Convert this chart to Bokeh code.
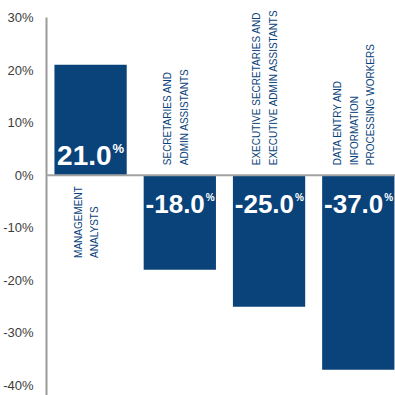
import math
from bokeh.plotting import figure
from bokeh.models import ColumnDataSource, Range1d, FixedTicker, Span, LabelSet
from bokeh.core.properties import value
from bokeh.embed import file_html
from bokeh.resources import INLINE

# ---- data ----
categories = [
    "MANAGEMENT\nANALYSTS",
    "SECRETARIES AND\nADMIN ASSISTANTS",
    "EXECUTIVE SECRETARIES AND\nEXECUTIVE ADMIN ASSISTANTS",
    "DATA ENTRY AND\nINFORMATION\nPROCESSING WORKERS",
]
changes = [21.0, -18.0, -25.0, -37.0]
y_ticks = [-40, -30, -20, -10, 0, 10, 20, 30]
y_tick_labels = ["-40%", "-30%", "-20%", "-10%", "0%", "10%", "20%", "30%"]

# ---- style ----
BLUE = "#0a437a"
FONT = "'Liberation Sans', Arial, sans-serif"

idx = list(range(len(categories)))

p = figure(width=395, height=395,
           x_range=Range1d(-0.494, 3.417), y_range=Range1d(-41.9, 33.23),
           output_backend="svg", toolbar_location=None,
           min_border_left=43, min_border_right=0,
           min_border_top=0, min_border_bottom=0)
p.outline_line_color = None
p.xgrid.visible = False
p.ygrid.visible = False
p.xaxis.visible = False
p.background_fill_color = "white"
p.border_fill_color = "white"

bars = ColumnDataSource(dict(x=idx, v=changes))
p.vbar(x="x", top="v", bottom=0, width=0.81, source=bars,
       fill_color=BLUE, line_color=None)

p.add_layout(Span(location=0, dimension="width", line_color="#a3a3a3", line_width=2))

# y axis
ya = p.yaxis[0]
ya.ticker = FixedTicker(ticks=y_ticks)
ya.major_label_overrides = {t: l for t, l in zip(y_ticks, y_tick_labels)}
ya.bounds = (p.y_range.start, y_ticks[-1])
ya.major_tick_line_color = None
ya.minor_tick_line_color = None
ya.axis_line_color = "#9a9a9a"
ya.axis_line_width = 2
ya.major_label_standoff = 7
ya.major_label_text_font = FONT
ya.major_label_text_font_size = "13px"
ya.major_label_text_color = "#3c3c3c"

# value labels
num_txt = [f"{v:.1f}" for v in changes]
pos = [v > 0 for v in changes]
vals = ColumnDataSource(dict(
    x=idx, y=[0] * len(idx), t=num_txt, pct=["%"] * len(idx),
    size=["28px" if s else "26px" for s in pos],
    psize=["13px" if s else "10px" for s in pos],
    xo=[21 if s else 25 for s in pos],
    xo2=[22 if s else 26 for s in pos],
    yo=[-20 if s else 29 for s in pos],
    yo2=[-20 - 7 if s else 29 - 7 for s in pos],
))
p.text(x="x", y="y", text="t", source=vals, x_offset="xo", y_offset="yo",
       text_align="right", text_baseline="alphabetic",
       text_font=value(FONT), text_font_style="bold",
       text_font_size="size", text_color="white")
p.text(x="x", y="y", text="pct", source=vals, x_offset="xo2", y_offset="yo2",
       text_align="left", text_baseline="alphabetic",
       text_font=value(FONT), text_font_style="bold",
       text_font_size="psize", text_color="white")

# category labels (rotated)
pos_src = ColumnDataSource(dict(
    x=[i for i, s in zip(idx, pos) if s], y=[0] * sum(pos),
    t=[c for c, s in zip(categories, pos) if s]))
neg_src = ColumnDataSource(dict(
    x=[i for i, s in zip(idx, pos) if not s], y=[0] * (len(pos) - sum(pos)),
    t=[c for c, s in zip(categories, pos) if not s]))

common = dict(x="x", y="y", text="t", angle=math.pi / 2, x_offset=-4,
              text_baseline="middle", text_font=value(FONT),
              text_font_size="10px", text_line_height=1.5, text_color=BLUE)
p.add_layout(LabelSet(source=pos_src, y_offset=-11, text_align="right", **common))
p.add_layout(LabelSet(source=neg_src, y_offset=10, text_align="left", **common))

open("out.html", "w").write(file_html(p, INLINE))
